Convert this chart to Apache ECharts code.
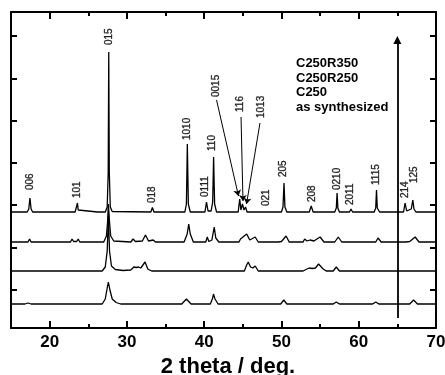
<!DOCTYPE html>
<html><head><meta charset="utf-8">
<script src="https://cdn.jsdelivr.net/npm/echarts@6/dist/echarts.min.js"></script>
<style>html,body{margin:0;padding:0;background:#fff}#c{width:445px;height:375px}</style>
</head><body><div id="c"></div>
<script>
// ---- data (2theta, relative intensity in a.u.) ----
const seriesNames = ['C250R350', 'C250R250', 'C250', 'as synthesized'];
const offsets = [116, 86, 57, 24];

const traceR350 = [
 [15,0],[17.1,0],[17.3,3],[17.45,14],[17.6,3],[17.8,0],
 [23.3,0],[23.5,2],[23.6,9],[23.7,2],[23.9,0],
 [26.2,0],[26.35,1.5],[26.5,0],
 [27.2,0],[27.45,5],[27.58,40],[27.65,160],[27.72,40],[27.85,5],[28.1,0.5],
 [33.1,0],[33.3,4.5],[33.5,0],
 [37.5,0],[37.7,8],[37.82,68],[37.95,8],[38.2,0],
 [40.1,0],[40.3,10],[40.5,1],
 [40.9,1],[41.1,10],[41.22,55],[41.35,8],[41.6,0],
 [44.4,0],[44.6,13],[44.75,2],[44.95,8],[45.15,2],[45.35,5],[45.55,0],
 [47.9,0],[48.1,2],[48.3,0],
 [50.0,0],[50.2,5],[50.33,29],[50.45,5],[50.7,0],
 [53.6,0],[53.85,6],[54.1,0],
 [56.9,0],[57.1,4],[57.2,19],[57.3,4],[57.5,0],
 [58.8,0],[59.0,3],[59.2,0],
 [62.0,0],[62.2,4],[62.3,22],[62.4,4],[62.7,0],
 [64.1,0],[64.3,1.5],[64.5,0],
 [65.8,0],[66.0,9],[66.2,1],[66.8,3],[67.0,12],[67.15,3],[67.4,0],
 [70,0]
];
const traceR250 = [
 [15,0],[17.2,0],[17.4,3],[17.6,0],
 [22.7,0],[22.9,3],[23.1,0.5],[23.5,0.5],[23.7,3],[23.9,0],
 [27.0,0],[27.35,6],[27.5,20],[27.6,38],[27.75,20],[27.9,6],[28.3,1],
 [30.5,0],[30.8,3],[31.1,0.5],[32.0,1],[32.4,7],[32.8,1],[33.4,2],[33.7,0],
 [37.4,0],[37.8,8],[38.0,18],[38.2,8],[38.6,0],
 [40.2,0],[40.4,5],[40.6,0.5],[41.0,2],[41.3,15],[41.5,4],[41.9,0],
 [44.5,0],[44.7,3],[44.9,2],[45.5,8],[45.9,2],[46.6,5],[47.0,0],
 [49.6,0],[49.8,2],[50.0,0.5],[50.6,6],[51.0,0],
 [52.8,0],[53.0,3],[53.3,1],[53.7,2],[54.2,1],[55.0,5],[55.5,0],
 [56.9,0],[57.35,5],[57.8,0],
 [62.2,0],[62.5,4],[62.9,0],
 [66.1,0],[66.3,1.5],[66.6,0.5],[67.3,5],[67.8,0],
 [70,0]
];
const traceC250 = [
 [15,0],[22.7,0],[22.9,1.5],[23.1,0],
 [26.8,0],[27.2,4],[27.45,20],[27.6,55],[27.75,20],[28.0,5],[28.5,1.5],[29.0,1],[29.2,2.5],[29.5,0.5],
 [30.5,1],[30.9,4],[31.2,3.5],[31.5,4],[31.8,3],[32.0,4],[32.35,9],[32.7,2],[33.2,0],
 [45.2,0],[45.5,6],[45.7,9],[46.0,4],[46.3,3],[46.6,5],[47.0,0],
 [52.8,0],[53.3,2],[53.6,3],[54.0,2.5],[54.4,3],[54.8,7],[55.0,8],[55.4,2],[55.8,0],
 [56.7,0],[57.1,4],[57.5,0],
 [70,0]
];
const traceSynth = [
 [15,0],[16.8,0],[17.2,1],[17.6,0],
 [23.4,0],[23.6,1],[23.8,0],
 [26.8,0],[27.2,5],[27.45,16],[27.6,22],[27.8,14],[28.1,5],[28.6,1.5],[29.2,0],
 [37.1,0],[37.7,5],[38.3,0],
 [40.8,0],[41.1,6],[41.2,10],[41.4,5],[41.8,0],
 [49.9,0],[50.3,4],[50.7,0],
 [56.7,0],[57.1,2],[57.5,0],
 [61.8,0],[62.2,2],[62.6,0],
 [66.6,0],[67.1,4],[67.6,0],
 [70,0]
];
const traces = [traceR350, traceR250, traceC250, traceSynth];

const xMajorTicks = [20, 30, 40, 50, 60, 70];
const xMinorTicks = [25, 35, 45, 55, 65];
const yTicks = [38, 80, 123, 165, 207, 249, 292];

const hklLabels = ['006','101','015','018','1010','0111','110','0015','116','1013','021','205','208','0210','2011','1115','214','125'];
const hklX      = [17.5, 23.6, 27.65, 33.3, 37.82, 40.2, 41.1, 41.62, 44.73, 47.44, 48.09, 50.24, 53.99, 57.28, 58.87, 62.3, 66.0, 67.2];
const hklLabelY = [138, 130, 283, 125, 188, 131, 177, 231, 216, 210, 122, 151, 126, 138, 123, 143, 130, 145];
const pointerFrom = [[41.6, 228], [44.77, 211], [47.22, 205]];
const pointerTo   = [[44.44, 132], [45.02, 127], [45.48, 124]];
const bigArrow = [[65.0, 10], [65.0, 288]];

// ---- chart ----
const font = "'Liberation Sans', Arial, sans-serif";
const black = '#000';
function xAx(pos, ticks, len, withLabel, showLine) {
  const a = {
    type: 'value', min: 15, max: 70, position: pos,
    axisLine: { show: showLine, onZero: false, lineStyle: { color: black, width: 2 } },
    axisTick: { show: true, inside: true, length: len, customValues: ticks, lineStyle: { color: black, width: 2 } },
    axisLabel: { show: withLabel, customValues: ticks, color: black, fontSize: 17, fontWeight: 'bold', fontFamily: font, margin: 6 },
    splitLine: { show: false }
  };
  if (withLabel) {
    a.name = '2 theta / deg.';
    a.nameLocation = 'middle';
    a.nameGap = 25;
    a.nameTextStyle = { color: black, fontSize: 22, fontWeight: 'bold', fontFamily: font, padding: [0, 0, 0, 9] };
  }
  return a;
}
function yAx(pos) {
  return {
    type: 'value', min: 0, max: 316, position: pos,
    axisLine: { show: true, onZero: false, lineStyle: { color: black, width: 2 } },
    axisTick: { show: true, inside: true, length: 6, customValues: yTicks, lineStyle: { color: black, width: 2 } },
    axisLabel: { show: false },
    splitLine: { show: false }
  };
}

const series = traces.map((t, i) => ({
  name: seriesNames[i], type: 'line', xAxisIndex: 0, yAxisIndex: 0,
  data: t.map(p => [p[0], p[1] + offsets[i]]),
  showSymbol: false, symbol: 'none',
  lineStyle: { color: black, width: 1.3 }, z: 3
}));

series.push({
  type: 'scatter', xAxisIndex: 0, yAxisIndex: 0, symbolSize: 0,
  data: hklX.map((x, i) => ({ value: [x, hklLabelY[i]], name: hklLabels[i] })),
  label: {
    show: true, formatter: p => p.name, rotate: 90, position: [0, 0],
    align: 'left', verticalAlign: 'middle',
    color: black, fontSize: 10, fontFamily: font,
    textBorderColor: black, textBorderWidth: 0.35
  },
  z: 5
});
series.push({
  type: 'lines', coordinateSystem: 'cartesian2d', xAxisIndex: 0, yAxisIndex: 0,
  data: pointerFrom.map((f, i) => ({ coords: [f, pointerTo[i]] })),
  symbol: ['none', 'arrow'], symbolSize: 6,
  lineStyle: { color: black, width: 1, opacity: 1 }, z: 4
});
series.push({
  type: 'lines', coordinateSystem: 'cartesian2d', xAxisIndex: 0, yAxisIndex: 0,
  data: [{ coords: bigArrow }],
  symbol: ['none', 'triangle'], symbolSize: 8,
  lineStyle: { color: black, width: 1.8, opacity: 1 }, z: 4
});

const chart = echarts.init(document.getElementById('c'), null, { renderer: 'canvas' });
chart.setOption({
  animation: false,
  backgroundColor: '#fff',
  grid: { left: 11, right: 9, top: 12, bottom: 47, containLabel: false, outerBoundsMode: 'none' },
  xAxis: [
    xAx('bottom', xMajorTicks, 7, true, true),
    xAx('bottom', xMinorTicks, 4, false, false),
    xAx('top', xMajorTicks, 7, false, true),
    xAx('top', xMinorTicks, 4, false, false)
  ],
  yAxis: [yAx('left'), yAx('right')],
  graphic: [{
    type: 'text', left: 296, top: 56,
    style: {
      text: seriesNames.join('\n'),
      font: "bold 13px 'Liberation Sans', Arial, sans-serif",
      lineHeight: 14.7, fill: black
    }
  }],
  series: series
});
</script>
</body></html>
